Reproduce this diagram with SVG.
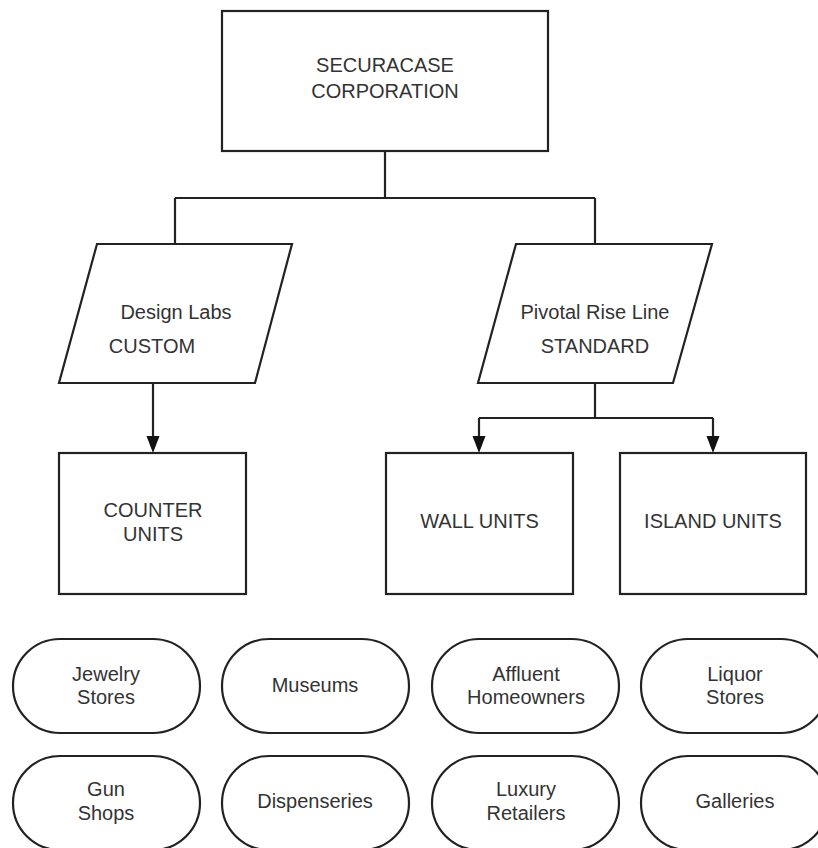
<svg xmlns="http://www.w3.org/2000/svg" width="818" height="848" viewBox="0 0 818 848">
<style>
.s{fill:#fff;stroke:#222;stroke-width:2.2}
.c{fill:none;stroke:#222;stroke-width:2.2}
text{font-family:"Liberation Sans",Arial,sans-serif;font-size:20px;fill:#333;text-anchor:middle}
</style>
<defs>
<marker id="a" markerWidth="13" markerHeight="17" refX="6.5" refY="17" orient="auto-start-reverse" markerUnits="userSpaceOnUse" viewBox="0 0 13 17">
<path d="M0,0 L13,0 L6.5,17 Z" fill="#111" transform="rotate(0)"/>
</marker>
</defs>
<rect width="818" height="848" fill="#fff"/>
<g id="connectors">
<path class="c" d="M385,151 V198 M175,198 H595 M175,198 V244 M595,198 V244"/>
<path class="c" d="M153,383 V436"/>
<path d="M146.5,436 L159.5,436 L153,453 Z" fill="#111"/>
<path class="c" d="M595,383 V418 M479,418 H713 M479,418 V436 M713,418 V436"/>
<path d="M472.5,436 L485.5,436 L479,453 Z" fill="#111"/>
<path d="M706.5,436 L719.5,436 L713,453 Z" fill="#111"/>
</g>
<g id="securacase">
<rect class="s" x="222" y="11" width="326" height="140"/>
<text x="385" y="72">SECURACASE</text>
<text x="385" y="98">CORPORATION</text>
</g>
<g id="design-labs">
<polygon class="s" points="97,244 292,244 255,383 59,383"/>
<text x="176" y="319">Design Labs</text>
<text x="152" y="353">CUSTOM</text>
</g>
<g id="pivotal">
<polygon class="s" points="516,244 712,244 673,383 478,383"/>
<text x="595" y="319">Pivotal Rise Line</text>
<text x="595" y="353">STANDARD</text>
</g>
<g id="counter">
<rect class="s" x="59" y="453" width="187" height="141"/>
<text x="153" y="517">COUNTER</text>
<text x="153" y="541">UNITS</text>
</g>
<g id="wall">
<rect class="s" x="386" y="453" width="187" height="141"/>
<text x="479.5" y="528">WALL UNITS</text>
</g>
<g id="island">
<rect class="s" x="620" y="453" width="186" height="141"/>
<text x="713" y="528">ISLAND UNITS</text>
</g>
<g id="jewelry">
<rect class="s" x="13" y="639" width="187" height="94" rx="47"/>
<text x="106" y="681">Jewelry</text>
<text x="106" y="704">Stores</text>
</g>
<g id="museums">
<rect class="s" x="222" y="639" width="187" height="94" rx="47"/>
<text x="315" y="692">Museums</text>
</g>
<g id="affluent">
<rect class="s" x="432" y="639" width="187" height="94" rx="47"/>
<text x="526" y="681">Affluent</text>
<text x="526" y="704">Homeowners</text>
</g>
<g id="liquor">
<rect class="s" x="641" y="639" width="187" height="94" rx="47"/>
<text x="735" y="681">Liquor</text>
<text x="735" y="704">Stores</text>
</g>
<g id="gun">
<rect class="s" x="13" y="756" width="187" height="94" rx="47"/>
<text x="106" y="796">Gun</text>
<text x="106" y="820">Shops</text>
</g>
<g id="dispenseries">
<rect class="s" x="222" y="756" width="187" height="94" rx="47"/>
<text x="315" y="808">Dispenseries</text>
</g>
<g id="luxury">
<rect class="s" x="432" y="756" width="187" height="94" rx="47"/>
<text x="526" y="796">Luxury</text>
<text x="526" y="820">Retailers</text>
</g>
<g id="galleries">
<rect class="s" x="641" y="756" width="187" height="94" rx="47"/>
<text x="735" y="808">Galleries</text>
</g>
</svg>
